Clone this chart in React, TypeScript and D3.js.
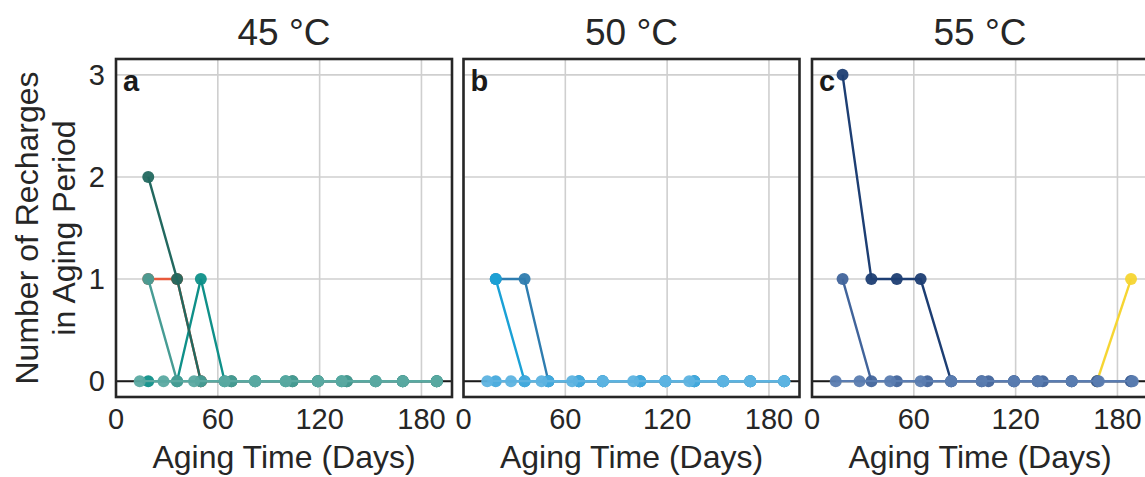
import React from "react";
import * as d3 from "d3";

// ---- data ----
const titles = ["45 °C", "50 °C", "55 °C"];
const letters = ["a", "b", "c"];
const xTicks = [0, 60, 120, 180];
const yTicks = [0, 1, 2, 3];

const daysA = [14, 28, 46, 64, 82, 100, 119, 133, 153, 169, 189];
const daysB = [19, 36, 50, 68, 82, 104, 119, 136, 153, 169, 189];

// panel a (45 °C)
const a_light = [0, 0, 0, 0, 0, 0, 0, 0, 0, 0, 0];
const a_orangeDays = [19, 36, 50];
const a_orange = [1, 1, 0];
const a_mid = [1, 0, 0, 0, 0, 0, 0, 0, 0, 0, 0];
const a_brightDays = [19, 36, 50, 64, 82, 100, 119, 133, 153, 169, 189];
const a_bright = [0, 0, 1, 0, 0, 0, 0, 0, 0, 0, 0];
const a_darkDays = [19, 36, 50, 68, 104, 119, 136, 169, 189];
const a_dark = [2, 1, 0, 0, 0, 0, 0, 0, 0];

// panel b (50 °C)
const b_light = [0, 0, 0, 0, 0, 0, 0, 0, 0, 0, 0];
const b_zero = [0, 0, 0, 0, 0, 0, 0, 0, 0, 0, 0];
const b_dark = [1, 1, 0, 0, 0, 0, 0, 0, 0, 0, 0];
const b_bright = [1, 0, 0, 0, 0, 0, 0, 0, 0, 0, 0];

// panel c (55 °C)
const c_light = [0, 0, 0, 0, 0, 0, 0, 0, 0, 0, 0];
const c_yellowDays = [168, 188];
const c_yellow = [0, 1];
const c_midDays = [18, 35, 50, 68, 82, 104, 119, 136, 153, 168, 188];
const c_mid = [1, 0, 0, 0, 0, 0, 0, 0, 0, 0, 0];
const c_darkDays = [18, 35, 50, 64, 82, 100, 119, 133, 153, 168, 188];
const c_dark = [3, 1, 1, 1, 0, 0, 0, 0, 0, 0, 0];

type Series = { days: number[]; vals: number[]; color: string; mcolor?: string };

const panels: Series[][] = [
  [
    { days: a_orangeDays, vals: a_orange, color: "#e8593b" },
    { days: a_brightDays, vals: a_bright, color: "#0f9089" },
    { days: a_darkDays, vals: a_dark, color: "#22685f" },
    { days: daysB, vals: a_mid, color: "#479c94" },
    { days: daysA, vals: a_light, color: "#5aa9a1" },
  ],
  [
    { days: daysB, vals: b_dark, color: "#2e7caf" },
    { days: daysB, vals: b_bright, color: "#1ba1d6" },
    { days: daysB, vals: b_zero, color: "#44a9dc" },
    { days: daysA, vals: b_light, color: "#5db3e0" },
  ],
  [
    { days: c_yellowDays, vals: c_yellow, color: "#f6d532" },
    { days: c_darkDays, vals: c_dark, color: "#1d3e73" },
    { days: c_midDays, vals: c_mid, color: "#41649b" },
    { days: daysA, vals: c_light, color: "#5a7cb0" },
  ],
];

// ---- layout ----
const W = 1145;
const H = 477;
const lefts = [116, 463.5, 812];
const pw = 336;
const top = 59;
const bottom = 397;
const font = "'Liberation Sans', Arial, Helvetica, sans-serif";

export default function App() {
  const y = d3.scaleLinear().domain([-0.155, 3.155]).range([bottom, top]);
  return (
    <svg
      width={W}
      height={H}
      style={{ position: "absolute", left: 0, top: 0, background: "#fff" }}
      fontFamily={font}
    >
      <rect width={W} height={H} fill="#fff" />
      {panels.map((series, pi) => {
        const x0 = lefts[pi];
        const x = d3.scaleLinear().domain([0, 198]).range([x0, x0 + pw]);
        const line = d3
          .line<[number, number]>()
          .x((d) => x(d[0]))
          .y((d) => y(d[1]));
        return (
          <g key={pi}>
            <clipPath id={`clip${pi}`}>
              <rect x={x0} y={top} width={pw} height={bottom - top} />
            </clipPath>
            {/* grid */}
            {xTicks.map((t) => (
              <line key={"gx" + t} x1={x(t)} x2={x(t)} y1={top} y2={bottom} stroke="#cfcfcf" strokeWidth={1.6} />
            ))}
            {yTicks.map((t) => (
              <line key={"gy" + t} x1={x0} x2={x0 + pw} y1={y(t)} y2={y(t)} stroke="#cfcfcf" strokeWidth={1.6} />
            ))}
            {/* zero line */}
            <line x1={x0} x2={x0 + pw} y1={y(0)} y2={y(0)} stroke="#1a1a1a" strokeWidth={2} />
            <g clipPath={`url(#clip${pi})`}>
              {series.map((s, si) => {
                const pts = s.days.map((d, i) => [d, s.vals[i]] as [number, number]);
                return (
                  <g key={si}>
                    <path d={line(pts) || ""} fill="none" stroke={s.color} strokeWidth={2.4} />
                    {pts.map((p, k) => (
                      <circle key={k} cx={x(p[0])} cy={y(p[1])} r={6} fill={s.mcolor || s.color} fillOpacity={0.95} />
                    ))}
                  </g>
                );
              })}
            </g>
            {/* frame */}
            <rect x={x0} y={top} width={pw} height={bottom - top} fill="none" stroke="#262626" strokeWidth={2.6} />
            {/* x tick labels */}
            {xTicks.map((t) => (
              <text key={"tx" + t} x={x(t)} y={429} textAnchor="middle" fontSize={29} fill="#262626">
                {t}
              </text>
            ))}
            {/* x label */}
            <text x={x0 + pw / 2} y={468} textAnchor="middle" fontSize={32} fill="#262626">
              Aging Time (Days)
            </text>
            {/* title */}
            <text x={x0 + pw / 2} y={45} textAnchor="middle" fontSize={37} fill="#262626">
              {titles[pi]}
            </text>
            {/* panel letter */}
            <text x={x0 + 7} y={91} fontSize={29} fontWeight="bold" fill="#1a1a1a">
              {letters[pi]}
            </text>
          </g>
        );
      })}
      {/* y ticks */}
      {yTicks.map((t) => (
        <text key={"ty" + t} x={105} y={y(t) + 10} textAnchor="end" fontSize={29} fill="#262626">
          {t}
        </text>
      ))}
      {/* y label */}
      <text transform={`translate(38,${(top + bottom) / 2}) rotate(-90)`} textAnchor="middle" fontSize={32} fill="#262626">
        Number of Recharges
      </text>
      <text transform={`translate(75,${(top + bottom) / 2}) rotate(-90)`} textAnchor="middle" fontSize={32} fill="#262626">
        in Aging Period
      </text>
    </svg>
  );
}
